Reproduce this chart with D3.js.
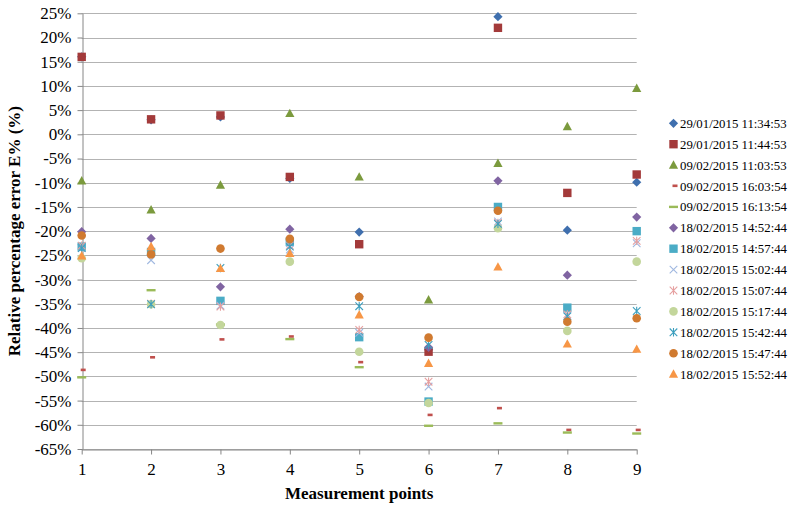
<!DOCTYPE html>
<html>
<head>
<meta charset="utf-8">
<script src="https://cdn.jsdelivr.net/npm/d3@7"></script>
<style>
  body { margin: 0; background: #fff; }
  .axis path, .axis line { stroke: #868686; }
  .grid line { stroke: #b3b3b3; stroke-width: 1; }
</style>
</head>
<body>
<div id="chart"></div>
<script>
const points = [1, 2, 3, 4, 5, 6, 7, 8, 9];
const yTicks = d3.range(-65, 26, 5);

const seriesNames = [
  "29/01/2015 11:34:53", "29/01/2015 11:44:53", "09/02/2015 11:03:53",
  "09/02/2015 16:03:54", "09/02/2015 16:13:54", "18/02/2015 14:52:44",
  "18/02/2015 14:57:44", "18/02/2015 15:02:44", "18/02/2015 15:07:44",
  "18/02/2015 15:17:44", "18/02/2015 15:42:44", "18/02/2015 15:47:44",
  "18/02/2015 15:52:44"
];

const s1  = [16.0, 3.0, 3.6, -9.1, -20.2, -44.5, 24.3, -19.8, -9.9];
const s2  = [16.0, 3.1, 3.9, -8.8, -22.7, -44.9, 22.0, -12.1, -8.3];
const s3  = [-9.6, -15.6, -10.5, 4.3, -8.8, -34.2, -6.0, 1.6, 9.5];
const s4  = [-48.7, -46.1, -42.4, -41.8, -47.1, -58.0, -56.6, -61.1, -61.1];
const s5  = [-50.2, -32.2, -39.3, -42.3, -48.1, -60.2, -59.7, -61.6, -61.8];
const s6  = [-20.1, -21.5, -31.5, -19.6, -33.5, -44.0, -9.6, -29.1, -17.1];
const s7  = [-23.2, -24.3, -34.4, -22.2, -41.9, -55.2, -15.0, -35.8, -20.0];
const s8  = [-23.5, -26.0, -35.4, -23.8, -41.0, -52.1, -18.0, -37.5, -22.5];
const s9  = [-23.0, -35.0, -35.6, -23.0, -40.4, -51.1, -18.3, -37.2, -22.0];
const s10 = [-25.6, -35.1, -39.4, -26.3, -44.9, -55.5, -19.4, -40.6, -26.3];
const s11 = [-23.5, -35.1, -27.6, -23.2, -35.5, -43.5, -18.5, -37.6, -36.5];
const s12 = [-20.9, -24.8, -23.6, -21.6, -33.6, -42.0, -15.8, -38.7, -38.0];
const s13 = [-25.1, -23.2, -27.7, -24.6, -37.3, -47.3, -27.4, -43.3, -44.4];

const allValues = [s1, s2, s3, s4, s5, s6, s7, s8, s9, s10, s11, s12, s13];

const colors = ["#3f6fae", "#a33a3a", "#7b9a3d", "#c0504d", "#9bbb59", "#8064a2",
                "#4bacc6", "#a0b8e0", "#e6a0a0", "#c3d69b", "#3d9fbe", "#d07a30", "#f79646"];
const shapes = ["diamond", "square", "triangle", "dashR", "dashG", "diamond",
                "square", "x", "star", "circle", "star", "circle", "triangle"];

const FONT = "'Liberation Serif', 'Times New Roman', Times, serif";

const width = 792, height = 506;
const margin = { top: 13.3, left: 81.7, right: 155.3, bottom: 57 };

const svg = d3.select("#chart").append("svg")
  .attr("width", width)
  .attr("height", height);

const x = d3.scaleLinear().domain([1, 9]).range([margin.left, width - margin.right]);
const y = d3.scaleLinear().domain([-65, 25]).range([height - margin.bottom, margin.top]);

// gridlines
svg.append("g")
  .attr("class", "grid")
  .selectAll("line")
  .data(yTicks)
  .join("line")
  .attr("x1", x(1))
  .attr("x2", x(9))
  .attr("y1", d => Math.round(y(d)) + 0.5)
  .attr("y2", d => Math.round(y(d)) + 0.5);

// axes
svg.append("g")
  .attr("class", "axis")
  .attr("transform", `translate(0,${Math.round(y(-65)) + 0.5})`)
  .call(d3.axisBottom(x).tickValues(points).tickSize(5).tickSizeOuter(0).tickPadding(8)
    .tickFormat(d3.format("d")))
  .call(g => g.selectAll("text").attr("font-family", FONT).attr("font-size", 17).attr("fill", "#000"));

svg.append("g")
  .attr("class", "axis")
  .attr("transform", `translate(${Math.round(x(1)) + 0.5},0)`)
  .call(d3.axisLeft(y).tickValues(yTicks).tickSize(5).tickSizeOuter(0).tickPadding(6)
    .tickFormat(d => d + "%"))
  .call(g => g.selectAll("text").attr("font-family", FONT).attr("font-size", 17).attr("fill", "#000"));

// axis titles
svg.append("text")
  .attr("font-family", FONT)
  .attr("font-size", 17)
  .attr("font-weight", "bold")
  .attr("x", (x(1) + x(9)) / 2)
  .attr("y", 499)
  .attr("text-anchor", "middle")
  .text("Measurement points");

svg.append("text")
  .attr("font-family", FONT)
  .attr("font-size", 17)
  .attr("font-weight", "bold")
  .attr("transform", `translate(20,${(y(25) + y(-65)) / 2}) rotate(-90)`)
  .attr("text-anchor", "middle")
  .text("Relative percentage error E% (%)");

function drawMarker(g, shape, color) {
  if (shape === "diamond") {
    g.append("path").attr("d", "M0,-4.6L4.6,0L0,4.6L-4.6,0Z").attr("fill", color);
  } else if (shape === "square") {
    g.append("rect").attr("x", -4.2).attr("y", -4.2).attr("width", 8.4).attr("height", 8.4).attr("fill", color);
  } else if (shape === "triangle") {
    g.append("path").attr("d", "M0,-4.8L4.6,3.6L-4.6,3.6Z").attr("fill", color);
  } else if (shape === "circle") {
    g.append("circle").attr("r", 4.3).attr("fill", color);
  } else if (shape === "dashR") {
    g.append("rect").attr("x", -1).attr("y", -1.5).attr("width", 5).attr("height", 2.6).attr("fill", color);
  } else if (shape === "dashG") {
    g.append("rect").attr("x", -4.5).attr("y", -1.2).attr("width", 9).attr("height", 2.4).attr("fill", color);
  } else if (shape === "x") {
    g.append("path").attr("d", "M-3.8,-3.8L3.8,3.8M-3.8,3.8L3.8,-3.8")
      .attr("stroke", color).attr("stroke-width", 1.1).attr("fill", "none");
  } else if (shape === "star") {
    g.append("path").attr("d", "M-3.8,-3.8L3.8,3.8M-3.8,3.8L3.8,-3.8M0,-4.2L0,4.2")
      .attr("stroke", color).attr("stroke-width", 1.1).attr("fill", "none");
  }
}

// points
allValues.forEach((vals, i) => {
  const g = svg.append("g").attr("class", "series");
  vals.forEach((v, j) => {
    const m = g.append("g").attr("transform", `translate(${x(points[j])},${y(v)})`);
    drawMarker(m, shapes[i], colors[i]);
  });
});

// legend
const legend = svg.append("g").attr("class", "legend");
seriesNames.forEach((name, i) => {
  const ly = 123.3 + i * 20.9;
  const m = legend.append("g").attr("transform", `translate(673.5,${ly})`);
  drawMarker(m, shapes[i], colors[i]);
  legend.append("text")
    .attr("font-family", FONT)
    .attr("font-size", 12.8)
    .attr("x", 680)
    .attr("y", ly + 4.5)
    .text(name);
});
</script>
</body>
</html>
